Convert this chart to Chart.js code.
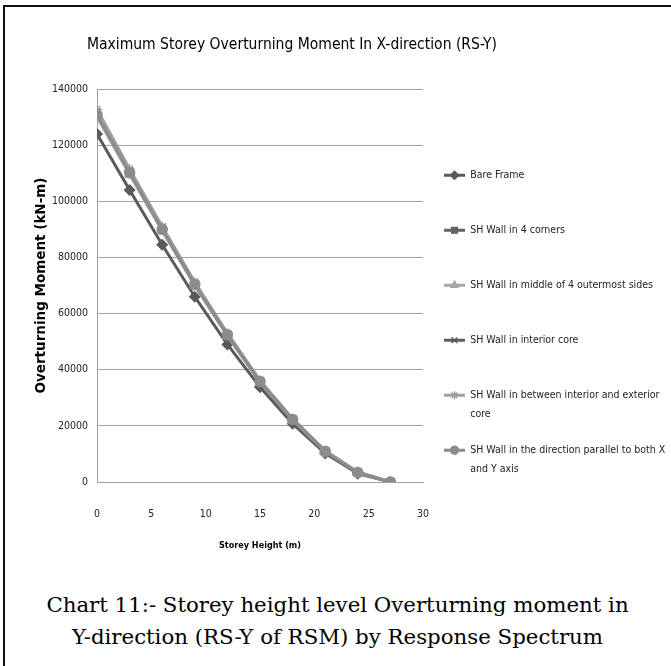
<!DOCTYPE html>
<html><head><meta charset="utf-8">
<script src="https://cdn.jsdelivr.net/npm/chart.js@4.4.1/dist/chart.umd.min.js"></script>
<style>
html,body{margin:0;padding:0;background:#fff;width:671px;height:666px;overflow:hidden;}
#frame{position:absolute;left:3px;top:5px;width:690px;height:690px;border-top:2px solid #111;border-left:2px solid #111;}
#wrap{position:absolute;left:5px;top:7px;width:666px;height:550px;}
#caption{position:absolute;left:4px;top:589px;width:667px;text-align:center;font-family:'DejaVu Serif',serif;font-size:21.3px;line-height:32px;color:#000;white-space:nowrap;}
</style></head><body>
<div id="frame"></div>
<div id="wrap"><canvas id="c"></canvas></div>
<div id="caption">Chart 11:- Storey height level Overturning moment in<br>Y-direction (RS-Y of RSM) by Response Spectrum</div>
<script>
// ---- data ----
const storeyHeights = [0, 3, 6, 9, 12, 15, 18, 21, 24, 27];
const seriesNames = [
  'Bare Frame',
  'SH Wall in 4 corners',
  'SH Wall in middle of 4 outermost sides',
  'SH Wall in interior core',
  'SH Wall in between interior and exterior core',
  'SH Wall in the direction parallel to both X and Y axis'
];
const legendLines = [
  ['Bare Frame', ''],
  ['SH Wall in 4 corners', ''],
  ['SH Wall in middle of 4 outermost sides', ''],
  ['SH Wall in interior core', ''],
  ['SH Wall in between interior and exterior', 'core'],
  ['SH Wall in the direction parallel to both X', 'and Y axis']
];
const bareFrame    = [124000, 104000, 84500, 66000, 49000, 33800, 20800, 10200, 3000, 0];
const corners4     = [130500, 110000, 89800, 70300, 52300, 35700, 22200, 10900, 3400, 0];
const middleSides  = [130000, 109500, 89500, 70000, 52000, 35500, 22000, 10800, 3300, 0];
const interiorCore = [131800, 110800, 90500, 70800, 52700, 36000, 22400, 11000, 3500, 0];
const betweenCore  = [132800, 111500, 91000, 71200, 53000, 36200, 22500, 11100, 3500, 0];
const parallelXY   = [130800, 110200, 90000, 70400, 52400, 35800, 22300, 10900, 3400, 0];
const xTicks = [0, 5, 10, 15, 20, 25, 30];
const yTicks = [0, 20000, 40000, 60000, 80000, 100000, 120000, 140000];

const seriesValues = [bareFrame, corners4, middleSides, interiorCore, betweenCore, parallelXY];
const seriesColors = ['#5a5a5a', '#626262', '#a6a6a6', '#5e5e5e', '#a0a0a0', '#8c8c8c'];
const seriesMarkers = ['rectRot', 'rect', 'triangle', 'crossRot', 'star', 'circle'];

const NARROW = "'DejaVu Sans Condensed','DejaVu Sans',sans-serif";
const BOX_W = 21;
const LEGEND_W = 248;

const datasets = seriesValues.map((vals, i) => ({
  label: seriesNames[i],
  data: storeyHeights.map((h, j) => ({ x: h, y: vals[j] })),
  order: seriesValues.length - i,
  borderColor: seriesColors[i],
  backgroundColor: seriesColors[i],
  borderWidth: 3,
  pointStyle: seriesMarkers[i],
  pointRadius: 5,
  pointBorderWidth: 1.5,
  pointBackgroundColor: seriesColors[i],
  pointBorderColor: seriesColors[i],
  tension: 0,
  fill: false
}));

const layoutTweak = {
  id: 'layoutTweak',
  beforeUpdate(chart) {
    const lg = chart.legend;
    if (lg && !lg._fixedWidth) {
      const f = lg.fit;
      lg.fit = function () { f.call(this); this.width = LEGEND_W; };
      lg._fixedWidth = true;
    }
  },
  afterLayout(chart) {
    const lg = chart.legend;
    if (lg) {
      const w = lg.right - lg.left, h = lg.bottom - lg.top;
      lg.left = chart.chartArea.right + 4; lg.right = lg.left + w;
      lg.top = 146; lg.bottom = lg.top + h;
    }
    const tb = chart.titleBlock;
    if (tb) { tb.right = 574; tb.width = tb.right - tb.left; }
  },
  afterDraw(chart) {
    const lg = chart.legend; if (!lg || !lg.legendHitBoxes || !Chart.helpers) return;
    const ctx = chart.ctx;
    lg.legendHitBoxes.forEach((hb, i) => {
      const item = lg.legendItems[i];
      const ds = chart.data.datasets[item.datasetIndex];
      ctx.save();
      ctx.fillStyle = ds.pointBackgroundColor;
      ctx.strokeStyle = ds.pointBorderColor;
      ctx.lineWidth = 1.5;
      Chart.helpers.drawPoint(ctx, { pointStyle: ds.pointStyle, rotation: 0, radius: 4, borderWidth: 1.5 }, hb.left + BOX_W / 2, hb.top + 5.25);
      ctx.restore();
    });
  }
};

new Chart(document.getElementById('c'), {
  type: 'line',
  data: { datasets },
  plugins: [layoutTweak],
  options: {
    responsive: true,
    maintainAspectRatio: false,
    animation: false,
    devicePixelRatio: 1,
    layout: { padding: 0 },
    plugins: {
      title: {
        display: true,
        text: 'Maximum Storey Overturning Moment In X-direction (RS-Y)',
        color: '#000',
        font: { family: NARROW, size: 15.5, weight: 'normal' },
        padding: { top: 28.5, bottom: 34.9 }
      },
      legend: {
        position: 'right',
        align: 'start',
        labels: {
          boxWidth: BOX_W,
          boxHeight: 3,
          padding: 17,
          color: '#222',
          font: { family: NARROW, size: 10.5, lineHeight: '19px' },
          sort: (a, b) => a.datasetIndex - b.datasetIndex,
          generateLabels: (chart) => Chart.defaults.plugins.legend.labels.generateLabels(chart).map((it) =>
            Object.assign(it, { text: legendLines[it.datasetIndex], lineWidth: 0, fillStyle: seriesColors[it.datasetIndex] }))
        }
      },
      tooltip: { enabled: false }
    },
    scales: {
      x: {
        type: 'linear',
        min: 0, max: 30,
        afterBuildTicks: (s) => { s.ticks = xTicks.map(v => ({ value: v })); },
        afterFit: (s) => { s.height = 75; },
        ticks: { padding: 18, color: '#222', font: { family: NARROW, size: 10.5 }, callback: (v) => String(v) },
        grid: { display: false },
        border: { display: true, color: '#a0a0a0', width: 1 },
        title: { display: true, text: 'Storey Height (m)', color: '#000', font: { family: NARROW, size: 9, weight: 'bold' }, padding: { top: 20, bottom: 5.7 } }
      },
      y: {
        type: 'linear',
        min: 0, max: 140000,
        afterBuildTicks: (s) => { s.ticks = yTicks.map(v => ({ value: v })); },
        afterFit: (s) => { s.width = 92; },
        ticks: { padding: 9, color: '#222', font: { family: NARROW, size: 10.5 }, callback: (v) => String(v) },
        grid: { color: '#a0a0a0', lineWidth: 1, drawTicks: false },
        border: { display: true, color: '#a0a0a0', width: 1 },
        title: { display: true, text: 'Overturning Moment (kN-m)', color: '#000', font: { family: "'DejaVu Sans',sans-serif", size: 13.5, weight: 'bold' }, padding: { top: 28, bottom: 0 } }
      }
    }
  }
});
</script>
</body></html>
